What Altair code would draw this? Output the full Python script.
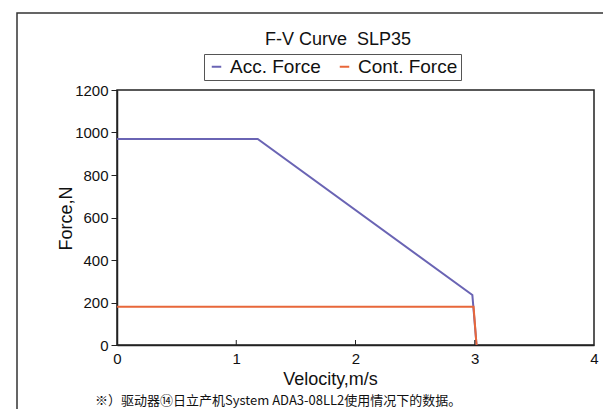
import altair as alt
import pandas as pd

# data
acc_v = [0.0, 1.18, 2.98, 3.015]
acc_f = [970, 970, 235, 0]
cont_v = [0.0, 2.99, 3.015]
cont_f = [180, 180, 0]
series_names = ["Acc. Force", "Cont. Force"]
series_colors = ["#6a64b4", "#e8673a"]
title_text = "F-V Curve \u00a0SLP35"
note_text = "※）驱动器⑭日立产机System ADA3-08LL2使用情况下的数据。"

rows = []
for i, (v, f) in enumerate(zip(acc_v, acc_f)):
    rows.append({"series": series_names[0], "v": v, "f": f, "o": i})
for i, (v, f) in enumerate(zip(cont_v, cont_f)):
    rows.append({"series": series_names[1], "v": v, "f": f, "o": i})
df = pd.DataFrame(rows)

FONT = "Liberation Sans"
W, H = 477, 255

lines = alt.Chart(df).mark_line(strokeWidth=2).encode(
    x=alt.X("v:Q", scale=alt.Scale(domain=[0, 4], nice=False),
            axis=alt.Axis(values=[0, 1, 2, 3, 4], format="d", title="Velocity,m/s", grid=False,
                          ticks=False, domainColor="#222", domainWidth=1.5,
                          labelFont=FONT, labelFontSize=15, labelColor="#111",
                          labelPadding=6, labelFlush=False,
                          titleFont=FONT, titleFontSize=18, titleFontWeight="normal",
                          titleColor="#111", titleX=213, titleY=25)),
    y=alt.Y("f:Q", scale=alt.Scale(domain=[0, 1200], nice=False),
            axis=alt.Axis(values=[0, 200, 400, 600, 800, 1000, 1200], format="d", title="Force,N",
                          grid=False, tickSize=6, tickColor="#222", domainColor="#222",
                          domainWidth=1.5, labelFont=FONT, labelFontSize=15,
                          labelColor="#111", labelPadding=3,
                          titleFont=FONT, titleFontSize=18, titleFontWeight="normal",
                          titleColor="#111", titleX=-42, titleY=128)),
    color=alt.Color("series:N", scale=alt.Scale(domain=series_names, range=series_colors),
                    legend=alt.Legend(title=None, orient="none", legendX=87, legendY=-36,
                                      direction="horizontal", symbolType="stroke",
                                      symbolSize=90, symbolStrokeWidth=2,
                                      labelFont=FONT, labelFontSize=19, labelColor="#111",
                                      strokeColor="#555", padding=3, columnPadding=14,
                                      labelOffset=4)),
    order="o:Q",
)

xticks = alt.Chart(pd.DataFrame({"t": [1, 2, 3]})).mark_rule(color="#222", strokeWidth=1).encode(
    x="t:Q", y=alt.value(H), y2=alt.value(H - 5)
)

title = alt.Chart(pd.DataFrame({"t": [title_text]})).mark_text(
    align="center", baseline="middle", font=FONT, fontSize=18, color="#111"
).encode(text="t:N", x=alt.value(221), y=alt.value(-50))

note = alt.Chart(pd.DataFrame({"t": [note_text]})).mark_text(
    align="left", baseline="middle", font="Noto Sans CJK SC", fontSize=13, color="#111"
).encode(text="t:N", x=alt.value(-22), y=alt.value(311))

frame = alt.Chart(pd.DataFrame({"a": [0]})).mark_rect(
    fill=None, stroke="#333", strokeWidth=1.5
).encode(x=alt.value(-100), x2=alt.value(600), y=alt.value(-77), y2=alt.value(450))

chart = alt.layer(frame, lines, xticks, title, note).properties(
    width=W, height=H,
    autosize=alt.AutoSizeParams(type="none"),
    padding={"left": 109, "top": 82, "right": 9, "bottom": 64},
).configure_view(stroke="#222", strokeWidth=1.5)

chart.save("out.html", embed_options={"renderer": "svg", "actions": False})
